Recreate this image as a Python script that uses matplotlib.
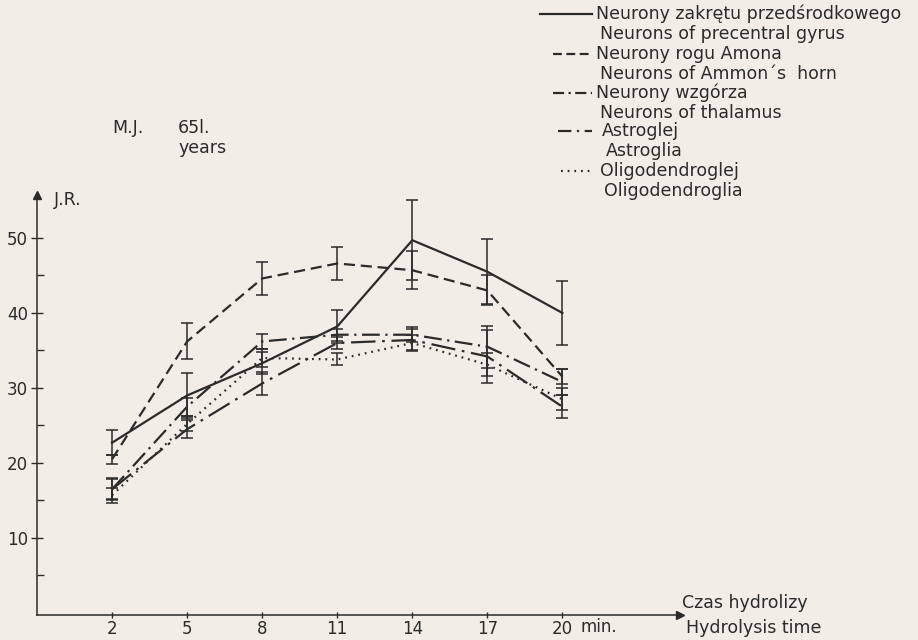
import matplotlib
matplotlib.use("Agg")
import matplotlib.pyplot as plt
from matplotlib.lines import Line2D

# hydrolysis time (min)
czas = [2, 5, 8, 11, 14, 17, 20]

# J.R. values, with error bar half-widths
gyrus = [22.7, 29.0, 33.3, 38.2, 49.7, 45.5, 40.0]
gyrus_err = [1.7, 3.0, 1.5, 2.2, 5.3, 4.3, 4.3]
ammon = [20.5, 36.2, 44.6, 46.6, 45.7, 43.0, 31.5]
ammon_err = [0.6, 2.4, 2.2, 2.2, 2.5, 2.0, 1.0]
thalamus = [16.5, 27.5, 36.2, 37.1, 37.1, 35.5, 30.8]
thalamus_err = [1.5, 1.2, 1.0, 0.8, 1.0, 2.8, 1.7]
astro = [16.5, 24.5, 30.6, 36.0, 36.4, 34.2, 27.5]
astro_err = [1.3, 1.2, 1.5, 0.8, 1.5, 3.5, 1.5]
oligo = [15.7, 25.2, 34.0, 33.8, 36.0, 33.1, 28.5]
oligo_err = [1.0, 1.0, 1.2, 0.8, 1.0, 1.5, 1.5]

labels_pl = ["Neurony zakrętu przedśrodkowego", "Neurony rogu Amona",
             "Neurony wzgórza", "Astroglej", "Oligodendroglej"]
labels_en = ["Neurons of precentral gyrus", "Neurons of Ammon\u00b4s  horn",
             "Neurons of thalamus", "Astroglia", "Oligodendroglia"]

xtick_labels = ["2", "5", "8", "11", "14", "17", "20"]
ytick_major = [10, 20, 30, 40, 50]
ytick_minor = [5, 15, 25, 35, 45]

bg = "#f2eee7"
ink = "#2b2b2b"
styles = ["-", (0, (5, 2.6)), (0, (8, 2.5, 1, 2.5)), (0, (11, 3, 1.2, 3)), (0, (0.8, 2.2))]
legend_styles = ["-", (0, (4, 2)), (0, (5, 2, 1, 2)), (0, (6, 2.5, 1, 2.5)), (0, (0.8, 2.2))]

W, H = 918, 640
fig = plt.figure(figsize=(W / 100, H / 100), dpi=100, facecolor=bg)


def px(x, y):
    return x / W, 1 - y / H


ax = fig.add_axes([37 / W, 25 / H, 643 / W, 420 / H])
ax.set_facecolor(bg)
ax.set_xlim(-1, 24.7)
ax.set_ylim(-0.27, 55.73)

series = [(gyrus, gyrus_err), (ammon, ammon_err), (thalamus, thalamus_err),
          (astro, astro_err), (oligo, oligo_err)]
for (vals, err), ls in zip(series, styles):
    ax.plot(czas, vals, linestyle=ls, color=ink, lw=1.6)
    ax.errorbar(czas, vals, yerr=err, fmt="none", ecolor=ink, elinewidth=1.1,
                capsize=4, capthick=1.1)

for s in ["top", "right"]:
    ax.spines[s].set_visible(False)
for s in ["left", "bottom"]:
    ax.spines[s].set_color(ink)
    ax.spines[s].set_linewidth(1.1)
ax.plot(1, 0, ">", color=ink, ms=6, transform=ax.transAxes, clip_on=False)
ax.plot(0, 1, "^", color=ink, ms=6, transform=ax.transAxes, clip_on=False)

ax.set_xticks(czas)
ax.set_xticklabels(xtick_labels)
ax.set_yticks(ytick_major)
ax.set_yticks(ytick_minor, minor=True)
ax.tick_params(axis="x", direction="inout", length=5, width=1, color=ink,
               labelsize=12, labelcolor=ink, pad=1)
ax.tick_params(axis="y", which="major", direction="inout", length=9, width=1,
               color=ink, labelsize=12, labelcolor=ink, pad=2)
ax.tick_params(axis="y", which="minor", direction="in", length=5, width=1, color=ink)

tk = dict(color=ink, fontsize=12.5)
fig.text(*px(580, 627), "min.", va="center", ha="left", color=ink, fontsize=12)
fig.text(*px(54, 200), "J.R.", va="center", ha="left", **tk)
fig.text(*px(112, 128), "M.J.", va="center", ha="left", **tk)
fig.text(*px(178, 128), "65l.", va="center", ha="left", **tk)
fig.text(*px(178, 148), "years", va="center", ha="left", **tk)
fig.text(*px(682, 603), "Czas hydrolizy", va="center", ha="left", **tk)
fig.text(*px(686, 628), "Hydrolysis time", va="center", ha="left", **tk)

# hand-made legend in the top right corner
line_x0 = [540, 553, 553, 558, 561]
text_x = [596, 596, 596, 602, 600]
row_y = [14, 54, 93, 131, 171]
for i in range(5):
    x0, y0 = px(line_x0[i], row_y[i])
    x1, _ = px(592, row_y[i])
    fig.add_artist(Line2D([x0, x1], [y0, y0], transform=fig.transFigure,
                          color=ink, lw=1.6, linestyle=legend_styles[i]))
    fig.text(*px(text_x[i], row_y[i]), labels_pl[i], va="center", ha="left", **tk)
    fig.text(*px(text_x[i] + 4, row_y[i] + 20), labels_en[i], va="center", ha="left", **tk)

fig.savefig("out.png", dpi=100, facecolor=bg)
